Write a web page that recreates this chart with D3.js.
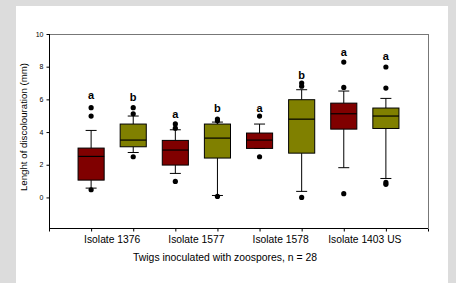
<!DOCTYPE html>
<html><head><meta charset="utf-8">
<script src="https://cdn.jsdelivr.net/npm/d3@7"></script>
<style>body{margin:0;background:#dcdcdc;}svg{display:block;font-family:"Liberation Sans",Arial,sans-serif;}</style>
</head><body>
<svg id="c" width="456" height="283"></svg>
<script>
const isolates = ["Isolate 1376", "Isolate 1577", "Isolate 1578", "Isolate 1403 US"];
const boxGroup = ["red","olive","red","olive","red","olive","red","olive"];
const q1 =      [1.06, 3.10, 1.98, 2.41, 3.00, 2.71, 4.18, 4.22];
const median =  [2.51, 3.51, 2.90, 3.63, 3.51, 4.79, 5.12, 4.98];
const q3 =      [3.02, 4.49, 3.49, 4.49, 3.94, 5.98, 5.77, 5.47];
const whiskLo = [0.57, 2.75, 1.47, 0.12, 3.00, 0.37, 1.82, 1.16];
const whiskHi = [4.10, 4.98, 4.14, 4.61, 4.49, 6.59, 6.51, 6.06];
const outliers = [
  [5.49, 4.98, 0.47],
  [5.49, 5.12, 2.49],
  [4.50, 4.24, 0.98],
  [4.80, 4.69, 0.06],
  [4.98, 2.49],
  [7.00, 6.81, 0.00],
  [8.28, 6.73, 0.23],
  [7.98, 6.69, 0.92, 0.80]
];
const letters = ["a","b","a","b","a","b","a","a"];
const letterY = [6.24, 6.14, 5.10, 5.47, 5.47, 7.50, 8.89, 8.62];
const yTicks = [0, 2, 4, 6, 8, 10];
const colors = {red: "#800000", olive: "#808000"};

const svg = d3.select("#c");
svg.append("rect").attr("x",16).attr("y",6).attr("width",432).attr("height",277).attr("fill","#fff");

const L = 49, R = 428, T = 34, B = 228;
const x = d3.scaleLinear().domain([0, 9]).range([L, R]);
const y = d3.scaleLinear().domain([-1.87, 10]).range([B, T]);
const bw = x(0.62) - x(0);

// frame top/right
svg.append("line").attr("x1",L).attr("x2",R).attr("y1",T+0.5).attr("y2",T+0.5).attr("stroke","#777").attr("stroke-width",1);
svg.append("line").attr("x1",R+0.5).attr("x2",R+0.5).attr("y1",T).attr("y2",B).attr("stroke","#777").attr("stroke-width",1);

// y axis
const ya = svg.append("g").attr("transform",`translate(${L+0.5},0)`)
  .call(d3.axisLeft(y).tickValues(yTicks).tickSize(3).tickPadding(3).tickFormat(d3.format("d")));
ya.select(".domain").attr("d",`M0,${T}V${B}`).attr("stroke","#000");
ya.selectAll("text").attr("font-size",7).attr("font-family","Liberation Sans, Arial, sans-serif").attr("fill","#000");

// x axis
const xa = svg.append("g").attr("transform",`translate(0,${B+0.5})`)
  .call(d3.axisBottom(x).tickValues(d3.range(0,10)).tickSize(3).tickFormat(""));
xa.select(".domain").attr("d",`M${L},0H${R}`).attr("stroke","#000");

// category labels
svg.selectAll(".cat").data(isolates).join("text")
  .attr("x",(d,i)=>x(2*i+1.5)).attr("y",243)
  .attr("text-anchor","middle").attr("font-size",10.3).attr("fill","#000").text(d=>d);

svg.append("text").attr("x",225).attr("y",261).attr("text-anchor","middle")
  .attr("font-size",10.4).attr("fill","#000").text("Twigs inoculated with zoospores, n = 28");

svg.append("text").attr("transform",`translate(26.5,${(T+B)/2 - 4}) rotate(-90)`)
  .attr("text-anchor","middle").attr("font-size",9.7).attr("fill","#000").text("Lenght of discolouration (mm)");

// boxes
const g = svg.append("g");
q1.forEach((_, i) => {
  const cx = x(i + 1);
  const capW = 11;
  g.append("line").attr("x1",cx).attr("x2",cx).attr("y1",y(q3[i])).attr("y2",y(whiskHi[i])).attr("stroke","#000");
  g.append("line").attr("x1",cx).attr("x2",cx).attr("y1",y(q1[i])).attr("y2",y(whiskLo[i])).attr("stroke","#000");
  g.append("line").attr("x1",cx-capW/2).attr("x2",cx+capW/2).attr("y1",y(whiskHi[i])).attr("y2",y(whiskHi[i])).attr("stroke","#000");
  g.append("line").attr("x1",cx-capW/2).attr("x2",cx+capW/2).attr("y1",y(whiskLo[i])).attr("y2",y(whiskLo[i])).attr("stroke","#000");
  g.append("rect").attr("x",cx-bw/2).attr("y",y(q3[i])).attr("width",bw).attr("height",y(q1[i])-y(q3[i]))
    .attr("fill",colors[boxGroup[i]]).attr("stroke","#000").attr("stroke-width",1);
  g.append("line").attr("x1",cx-bw/2).attr("x2",cx+bw/2).attr("y1",y(median[i])).attr("y2",y(median[i])).attr("stroke","#000").attr("stroke-width",1.2);
  outliers[i].forEach(v => g.append("circle").attr("cx",cx).attr("cy",y(v)).attr("r",2.6).attr("fill","#000"));
  g.append("text").attr("x",cx).attr("y",y(letterY[i])).attr("dy","0.35em").attr("text-anchor","middle")
    .attr("font-size",11).attr("font-weight","bold").attr("fill","#000").text(letters[i]);
});
</script>
</body></html>
